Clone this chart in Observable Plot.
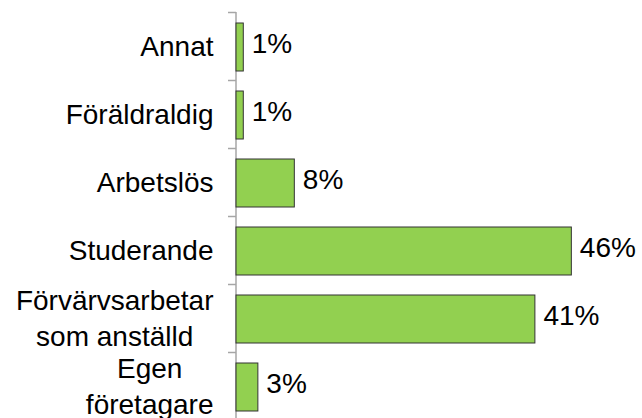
<!DOCTYPE html>
<html>
<head>
<meta charset="utf-8">
<script src="https://cdn.jsdelivr.net/npm/d3@7"></script>
<script src="https://cdn.jsdelivr.net/npm/@observablehq/plot@0.6"></script>
<style>
  html, body { margin: 0; padding: 0; background: #fff; overflow: hidden; }
  svg { display: block; }
</style>
</head>
<body>
<div id="chart"></div>
<script>
const categories = ["Annat", "Föräldraldig", "Arbetslös", "Studerande", "Förvärvsarbetar\nsom anställd", "Egen\nföretagare"];
const values = [1, 1, 8, 46, 41, 3];
const valueLabels = ["1%", "1%", "8%", "46%", "41%", "3%"];

const data = categories.map((c, i) => ({category: c, value: values[i], label: valueLabels[i]}));
const font = "'Liberation Sans', Arial, Helvetica, sans-serif";

const chart = Plot.plot({
  width: 642,
  height: 420,
  marginLeft: 236,
  marginRight: 41.5,
  marginTop: 12,
  marginBottom: 0,
  style: {fontFamily: font, background: "#fff"},
  x: {domain: [0, 50], axis: null},
  y: {domain: categories, padding: 0, axis: null},
  marks: [
    Plot.ruleX([0], {stroke: "#a6a6a6", strokeWidth: 1.5, dx: -0.5}),
    Plot.ruleY(categories, {y: d => d, x1: 0, x2: 0, insetLeft: -8, dy: -34, stroke: "#a6a6a6", strokeWidth: 1.5}),
    Plot.barX(data, {x: "value", y: "category", fill: "#92d050", stroke: "#333", strokeWidth: 1, insetTop: 11, insetBottom: 9}),
    Plot.text(data, {x: 0, y: "category", text: "category", textAnchor: "end", dx: -23, dy: -2, fontSize: 28, lineHeight: 1.29, fill: "#000"}),
    Plot.text(data, {x: "value", y: "category", text: "label", textAnchor: "start", dx: 8, dy: -2, fontSize: 28, fill: "#000"})
  ]
});
document.getElementById("chart").appendChild(chart);

// center the lines of multi-line category labels within their block (block stays right-aligned)
d3.select(chart).selectAll("text").each(function() {
  const tspans = this.querySelectorAll("tspan");
  if (tspans.length > 1 && this.closest("g").getAttribute("text-anchor") === "end") {
    let maxW = 0;
    tspans.forEach(t => { maxW = Math.max(maxW, t.getComputedTextLength()); });
    this.setAttribute("text-anchor", "middle");
    tspans.forEach(t => t.setAttribute("x", -maxW / 2));
  }
});
</script>
</body>
</html>
